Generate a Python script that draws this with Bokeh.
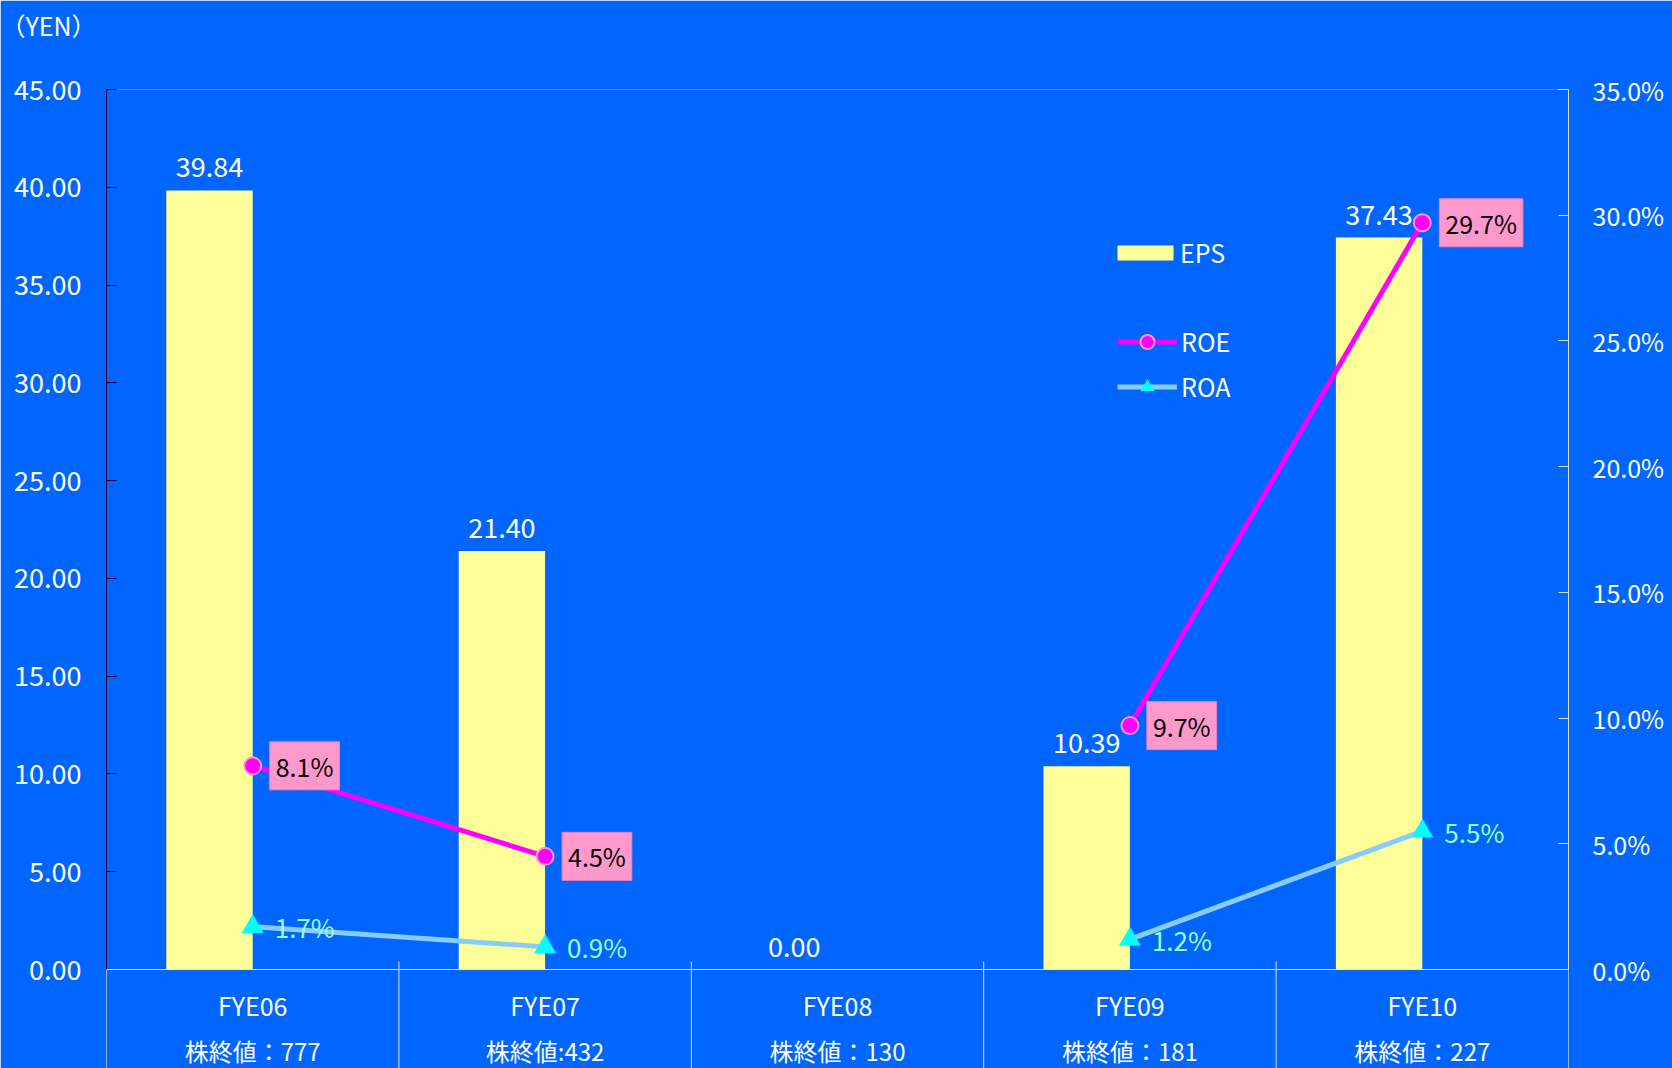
import numpy as np
from bokeh.plotting import figure
from bokeh.models import (Range1d, LinearAxis, SingleIntervalTicker, FixedTicker, Legend, LegendItem,
                          Label, ColumnDataSource, PrintfTickFormatter, NumeralTickFormatter, Span,
                          CustomJSTickFormatter)
from bokeh.transform import dodge
from bokeh.core.properties import value
from bokeh.embed import file_html
from bokeh.resources import INLINE

# ---------------- data ----------------
categories = ["FYE06", "FYE07", "FYE08", "FYE09", "FYE10"]
closing_prices = ["株終値：777", "株終値:432", "株終値：130", "株終値：181", "株終値：227"]
eps = [39.84, 21.40, 0.00, 10.39, 37.43]
roe = [8.1, 4.5, None, 9.7, 29.7]
roa = [1.7, 0.9, None, 1.2, 5.5]
eps_axis_max = 45
eps_tick_step = 5
pct_axis_max = 35
pct_tick_step = 5
unit_label = "（YEN）"

# ---------------- style / layout ----------------
FONT = "Noto Sans CJK JP"
BG = "#0066FF"
BAR = "#FFFF99"
ROE_C = "#FF00FF"
ROE_EDGE = "#FF99CC"
ROA_LINE = "#88CCFF"
ROA_MARK = "#00FFFF"
ROA_TEXT = "#99FFCC"
LIGHT = "#DDDDFF"

CANVAS_W, CANVAS_H = 1672, 1068
FRAME_L, FRAME_R, FRAME_T = 106, 1568, 89
ZERO_Y = 969                       # screen y of the value axis zero
TITLE_H, TITLE_STANDOFF = 36, 10
SPACER = 40                        # gap kept between unit label and frame
px_per_unit = (ZERO_Y - FRAME_T) / eps_axis_max
eps_min = -(CANVAS_H - ZERO_Y) / px_per_unit
pct_min = eps_min * pct_axis_max / eps_axis_max
divider_up = 8 / px_per_unit       # dividers poke 8px above the axis line

n = len(categories)
xs = [i + 0.5 for i in range(n)]
bounds_x = list(range(n + 1))

cat_src = ColumnDataSource(dict(x=xs, eps=eps, label=[f"{v:.2f}" for v in eps],
                                cat=categories, price=closing_prices))
div_src = ColumnDataSource(dict(x=bounds_x))
roe_line_src = ColumnDataSource(dict(x=np.array(xs, dtype=float),
                                     y=np.array([np.nan if v is None else v for v in roe], dtype=float)))
roa_line_src = ColumnDataSource(dict(x=np.array(xs, dtype=float),
                                     y=np.array([np.nan if v is None else v for v in roa], dtype=float)))
roe_idx = [i for i, v in enumerate(roe) if v is not None]
roa_idx = [i for i, v in enumerate(roa) if v is not None]
roe_pts = ColumnDataSource(dict(x=[xs[i] for i in roe_idx], y=[roe[i] for i in roe_idx],
                                label=[f"{roe[i]:.1f}%" for i in roe_idx]))
roa_pts = ColumnDataSource(dict(x=[xs[i] for i in roa_idx], y=[roa[i] for i in roa_idx],
                                label=[f"{roa[i]:.1f}%" for i in roa_idx]))

p = figure(frame_width=FRAME_R - FRAME_L, frame_height=CANVAS_H - FRAME_T,
           x_range=Range1d(0, n), y_range=Range1d(eps_min, eps_axis_max),
           x_axis_type=None, output_backend="svg", toolbar_location=None,
           title=unit_label,
           background_fill_color=BG, border_fill_color=BG,
           min_border_left=FRAME_L, min_border_right=CANVAS_W - FRAME_R,
           min_border_top=FRAME_T, min_border_bottom=0)
p.outline_line_color = None
p.grid.visible = False
p.extra_y_ranges = {"pct": Range1d(pct_min, pct_axis_max)}

# unit label (title) pushed up by an invisible, label-less axis between it and the frame
p.title.align = "left"
p.title.vertical_align = "top"
p.title.offset = -FRAME_L
p.title.standoff = TITLE_STANDOFF
p.title.text_color = "white"
p.title.text_font = FONT
p.title.text_font_size = "25px"
p.title.text_font_style = "normal"

spacer = LinearAxis(ticker=FixedTicker(ticks=[xs[0]]),
                    formatter=CustomJSTickFormatter(code="return '';"),
                    axis_line_color=None, major_tick_line_color=None, minor_tick_line_color=None,
                    major_tick_in=0, major_tick_out=SPACER, major_label_standoff=0)
p.add_layout(spacer, "above")

# left axis
ya = p.yaxis[0]
ya.ticker = SingleIntervalTicker(interval=eps_tick_step, num_minor_ticks=0)
ya.formatter = NumeralTickFormatter(format="0.00")
ya.bounds = (0, eps_axis_max)
ya.axis_line_color = "#000033"
ya.major_tick_line_color = "#000033"
ya.minor_tick_line_color = None
ya.major_tick_in = 10
ya.major_tick_out = 0
ya.major_label_standoff = 25
ya.major_label_text_color = "white"
ya.major_label_text_font = FONT
ya.major_label_text_font_size = "27px"

# right axis
yr = LinearAxis(y_range_name="pct",
                ticker=SingleIntervalTicker(interval=pct_tick_step, num_minor_ticks=0),
                formatter=PrintfTickFormatter(format="%.1f%%"),
                bounds=(0, pct_axis_max))
yr.axis_line_color = LIGHT
yr.major_tick_line_color = LIGHT
yr.minor_tick_line_color = None
yr.major_tick_in = 10
yr.major_tick_out = 0
yr.major_label_standoff = 24
yr.major_label_text_color = "white"
yr.major_label_text_font = FONT
yr.major_label_text_font_size = "25px"
p.add_layout(yr, "right")

# category table below the zero line
p.add_layout(Span(location=0, dimension="width", line_color=LIGHT, line_width=1))
p.segment(x0="x", y0=eps_min, x1="x", y1=divider_up, source=div_src,
          line_color=LIGHT, line_width=1)
p.text(x="x", y=0, text="cat", source=cat_src, y_offset=35,
       text_align="center", text_baseline="middle", text_color="white",
       text_font=value(FONT), text_font_size="25px")
p.text(x="x", y=0, text="price", source=cat_src, y_offset=81,
       text_align="center", text_baseline="middle", text_color="white",
       text_font=value(FONT), text_font_size="24px")

# bars
bars = p.vbar(x=dodge("x", -0.1478, range=p.x_range), top="eps", width=0.2955, source=cat_src,
              fill_color=BAR, line_color=None)
p.text(x=dodge("x", -0.1478, range=p.x_range), y="eps", text="label", source=cat_src,
       y_offset=-23, text_align="center", text_baseline="middle", text_color="white",
       text_font=value(FONT), text_font_size="27px")

# ROA
roa_line = p.line("x", "y", source=roa_line_src, y_range_name="pct", line_color=ROA_LINE, line_width=5)
roa_mark = p.scatter("x", "y", source=roa_pts, y_range_name="pct", marker="triangle", size=22,
                     fill_color=ROA_MARK, line_color=None)
p.text("x", "y", text="label", source=roa_pts, y_range_name="pct", x_offset=22,
       text_align="left", text_baseline="middle", text_color=ROA_TEXT,
       text_font=value(FONT), text_font_size="26px")

# ROE
roe_line = p.line("x", "y", source=roe_line_src, y_range_name="pct", line_color=ROE_C, line_width=5)
roe_mark = p.scatter("x", "y", source=roe_pts, y_range_name="pct", marker="circle", size=17,
                     fill_color=ROE_C, line_color=ROE_EDGE, line_width=2)
for xv, yv, lab in zip(roe_pts.data["x"], roe_pts.data["y"], roe_pts.data["label"]):
    p.add_layout(Label(x=xv, y=yv, y_range_name="pct", text=lab, x_offset=17,
                       text_align="left", text_baseline="middle", text_color="black",
                       text_font=FONT, text_font_size="25px",
                       background_fill_color=ROE_EDGE, border_line_color="#F080C0",
                       padding=6))

# legends (location = bottom-left corner, relative to the frame)
leg1 = Legend(items=[LegendItem(label="EPS", renderers=[bars])], location=(1004, 798),
              glyph_width=70, glyph_height=19, label_standoff=0, padding=0, margin=0, spacing=0,
              background_fill_alpha=0, border_line_alpha=0,
              label_text_color="white", label_text_font=FONT, label_text_font_size="25px")
leg2 = Legend(items=[LegendItem(label="ROE", renderers=[roe_line, roe_mark]),
                     LegendItem(label="ROA", renderers=[roa_line, roa_mark])],
              location=(1011, 664),
              glyph_width=60, glyph_height=35, label_standoff=4, padding=0, margin=0, spacing=9,
              background_fill_alpha=0, border_line_alpha=0,
              label_text_color="white", label_text_font=FONT, label_text_font_size="25px")
p.add_layout(leg1, "center")
p.add_layout(leg2, "center")

open("out.html", "w").write(file_html(p, INLINE))
